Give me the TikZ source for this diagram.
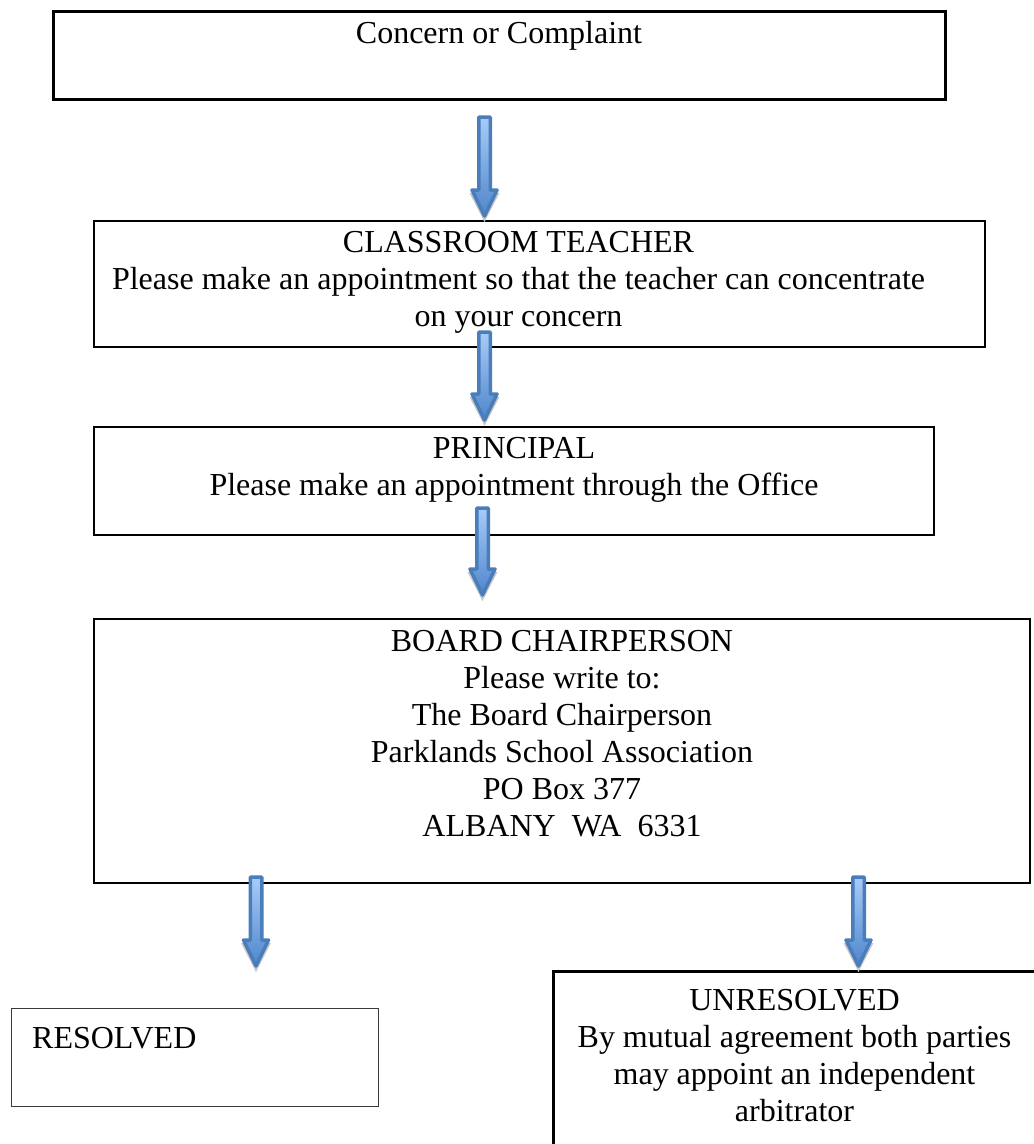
\documentclass[tikz,border=0pt]{standalone}
\usepackage{fontspec}
\setmainfont{Liberation Serif}
\usetikzlibrary{calc}
\definecolor{arrborder}{HTML}{4A7EBB}
\definecolor{arrlight}{HTML}{A8CBF8}
\definecolor{arrdark}{HTML}{4F86CC}
\definecolor{shadowgray}{HTML}{C8C8C8}
\definecolor{resgray}{HTML}{3A3A3A}
\tikzset{
  box/.style={draw, line width=2.2pt, inner sep=0pt, outer sep=0pt},
  txt/.style={inner sep=0pt, align=center, font=\fontsize{32}{37}\selectfont},
  arrowbody/.style={draw=arrborder, line width=3.5pt, line join=round, top color=arrlight, bottom color=arrdark},
}
\newcommand{\blockarrow}[2]{%
  \fill[shadowgray] let \p1=(#1), \p2=(#2) in
    (\x1-6pt,\y1-4pt) -- (\x1+6pt,\y1-4pt) -- (\x1+6pt,\y2+25pt) -- (\x1+15pt,\y2+25pt)
    -- (\x1,\y2-4pt) -- (\x1-15pt,\y2+25pt) -- (\x1-6pt,\y2+25pt) -- cycle;
  \path[arrowbody] let \p1=(#1), \p2=(#2) in
    (\x1-5.75pt,\y1) -- (\x1+5.75pt,\y1) -- (\x1+5.75pt,\y2+28pt) -- (\x1+12.5pt,\y2+28pt)
    -- (\x1,\y2+2pt) -- (\x1-12.5pt,\y2+28pt) -- (\x1-5.75pt,\y2+28pt) -- cycle;
}
\begin{document}
\begin{tikzpicture}[x=1pt,y=-1pt]
\useasboundingbox (0,0) rectangle (1034,1144);
\clip (0,0) rectangle (1034,1144);

% boxes
\node[box, line width=3pt, minimum width=892pt, minimum height=88pt] (b1) at (499,55) {};
\node[box, minimum width=891pt, minimum height=126pt] (b2) at (539.5,284) {};
\node[box, minimum width=840pt, minimum height=108pt] (b3) at (514,481) {};
\node[box, minimum width=936pt, minimum height=264pt] (b4) at (562,751) {};
\node[box, draw=resgray, line width=1.6pt, minimum width=367pt, minimum height=98pt] (b5) at (195,1057.5) {};
\node[box, minimum width=600pt, minimum height=300pt, anchor=north west] (b6) at (553.5,971.5) {};

% texts
\node[txt, anchor=north] (t1) at (499,21.5) {Concern or Complaint};
\node[txt, anchor=north] (t2) at (518.5,231) {CLASSROOM TEACHER\\Please make an appointment so that the teacher can concentrate\\on your concern};
\node[txt, anchor=north] (t3) at (514,437) {PRINCIPAL\\Please make an appointment through the Office};
\node[txt, anchor=north] (t4) at (562,630) {BOARD CHAIRPERSON\\Please write to:\\The Board Chairperson\\Parklands School Association\\PO Box 377\\ALBANY\ \ WA\ \ 6331};
\node[txt, anchor=north west] (t5) at (32,1027) {RESOLVED};
\node[txt, anchor=north] (t6) at (794.5,989) {UNRESOLVED\\By mutual agreement both parties\\may appoint an independent\\arbitrator};

% arrow anchor points
\coordinate (a1s) at (484.5,117);
\coordinate (a1e) at (484.5,218);
\coordinate (a2s) at (484.5,332);
\coordinate (a2e) at (484.5,422);
\coordinate (a3s) at (482.5,508);
\coordinate (a3e) at (482.5,597);
\coordinate (a4s) at (256,877);
\coordinate (a4e) at (256,968);
\coordinate (a5s) at (858.5,877);
\coordinate (a5e) at (858.5,968);

\blockarrow{a1s}{a1e}
\blockarrow{a2s}{a2e}
\blockarrow{a3s}{a3e}
\blockarrow{a4s}{a4e}
\blockarrow{a5s}{a5e}
\end{tikzpicture}
\end{document}
